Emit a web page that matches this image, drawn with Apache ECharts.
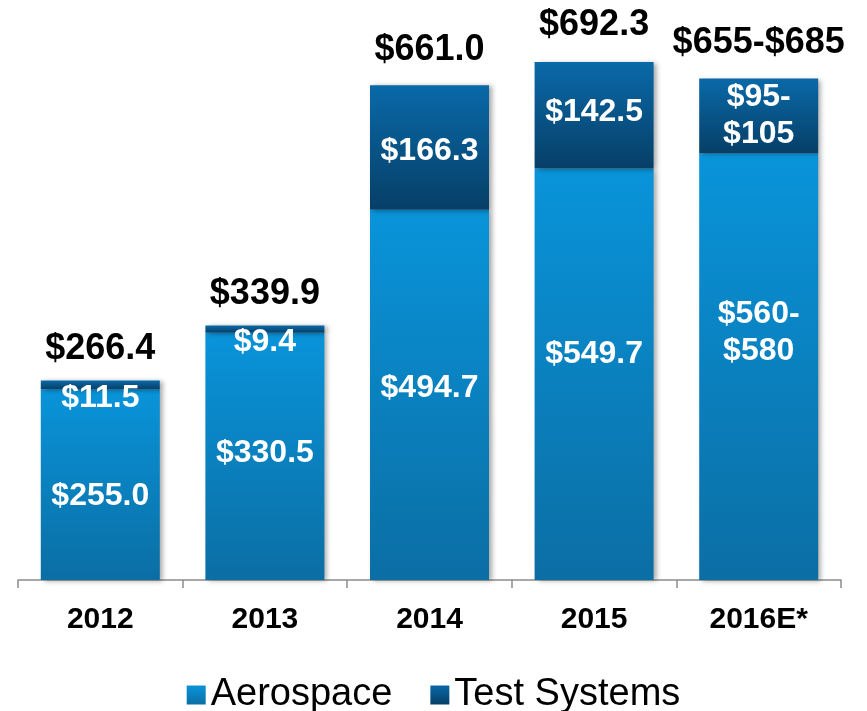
<!DOCTYPE html>
<html>
<head>
<meta charset="utf-8">
<script src="https://cdn.jsdelivr.net/npm/echarts@6/dist/echarts.min.js"></script>
<style>html,body{margin:0;padding:0;background:#fff}#c{width:867px;height:711px}</style>
</head>
<body>
<div id="c"></div>
<script>
const categories = ['2012', '2013', '2014', '2015', '2016E*'];
const aerospace = [255.0, 330.5, 494.7, 549.7, 570];
const testSystems = [11.5, 9.4, 166.3, 142.5, 100];
const totals = [266.4, 339.9, 661.0, 692.3, 670];
const aerospaceLabels = ['$255.0', '$330.5', '$494.7', '$549.7', '$560-\n$580'];
const testLabels = ['$11.5', '$9.4', '$166.3', '$142.5', '$95-\n$105'];
const totalLabels = ['$266.4', '$339.9', '$661.0', '$692.3', '$655-$685'];

// label fine-positioning (pixels)
const aeroOffsetY = [12, -3, -7, -20, -34];
const testOffsetY = [13, 13, 4, -3, 0];
const totalOffsetY = [0, 0, -3, -5, -4];

const FONT = '"Liberation Sans", Arial, sans-serif';
const shadow = { shadowBlur: 5, shadowOffsetX: 3, shadowOffsetY: 1, shadowColor: 'rgba(0,0,0,0.35)' };
const aeroColor = new echarts.graphic.LinearGradient(0, 0, 0, 1, [
  { offset: 0, color: '#0994da' }, { offset: 1, color: '#0b6ea4' }]);
const testColor = new echarts.graphic.LinearGradient(0, 0, 0, 1, [
  { offset: 0, color: '#0a69a8' }, { offset: 1, color: '#063f67' }]);

const innerLabel = { show: true, position: 'inside', color: '#fff', fontFamily: FONT,
  fontWeight: 'bold', fontSize: 32, lineHeight: 37 };

const chart = echarts.init(document.getElementById('c'));
chart.setOption({
  animation: false,
  grid: { left: 18, right: 26, top: 0, bottom: 131 },
  legend: {
    data: ['Aerospace', 'Test Systems'], bottom: -8, left: 'center',
    itemWidth: 19, itemHeight: 19, itemGap: 38, icon: 'rect',
    textStyle: { fontFamily: FONT, fontSize: 38, color: '#000' }
  },
  xAxis: {
    type: 'category', data: categories,
    axisLine: { lineStyle: { color: '#8c8c8c', width: 1.5 } },
    axisTick: { show: true, length: 8, lineStyle: { color: '#8c8c8c', width: 1.5 } },
    axisLabel: { fontFamily: FONT, fontWeight: 'bold', fontSize: 30, color: '#000', margin: 25 }
  },
  yAxis: { type: 'value', min: 0, max: 775, show: false, splitLine: { show: false } },
  series: [
    {
      name: 'Aerospace', type: 'bar', stack: 'a', barWidth: 119,
      itemStyle: Object.assign({ color: aeroColor }, shadow),
      data: aerospace.map((v, i) => ({ value: v,
        label: Object.assign({}, innerLabel, { formatter: aerospaceLabels[i], offset: [0, aeroOffsetY[i]] }) }))
    },
    {
      name: 'Test Systems', type: 'bar', stack: 'a', barWidth: 119,
      itemStyle: Object.assign({ color: testColor }, shadow),
      data: testSystems.map((v, i) => ({ value: v,
        label: Object.assign({}, innerLabel, { formatter: testLabels[i], offset: [0, testOffsetY[i]] }) }))
    },
    {
      name: 'Total', type: 'scatter', symbolSize: 0, silent: true,
      itemStyle: { opacity: 1, color: '#000' },
      data: totals.map((v, i) => ({ value: v,
        label: { show: true, position: 'top', distance: 14, formatter: totalLabels[i],
          offset: [0, totalOffsetY[i]], fontFamily: FONT, fontWeight: 'bold', fontSize: 36, color: '#000' } }))
    }
  ]
});
</script>
</body>
</html>
